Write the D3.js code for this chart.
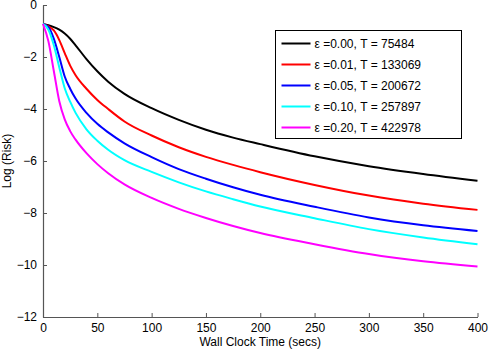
<!DOCTYPE html>
<html>
<head>
<meta charset="utf-8">
<script src="https://cdn.jsdelivr.net/npm/d3@7"></script>
<style>
  body { margin: 0; background: #fff; }
  text { font-family: "Liberation Sans", Arial, sans-serif; }
</style>
</head>
<body>
<svg id="chart" width="490" height="352"></svg>
<script>
// wall clock time (secs)
const times = [0, 5, 10, 15, 20, 25, 30, 40, 50, 60, 75, 100, 125, 150, 175, 200, 250, 300, 350, 400];

const riskEps000 = [-0.73, -0.78, -0.85, -0.95, -1.1, -1.3, -1.55, -2.08, -2.55, -2.95, -3.42, -3.97, -4.42, -4.8, -5.1, -5.35, -5.82, -6.2, -6.5, -6.76];
const riskEps001 = [-0.73, -0.82, -0.98, -1.35, -1.85, -2.33, -2.7, -3.22, -3.65, -4.0, -4.48, -5.02, -5.47, -5.84, -6.15, -6.43, -6.92, -7.33, -7.64, -7.88];
const riskEps005 = [-0.73, -0.85, -1.3, -2.0, -2.75, -3.22, -3.6, -4.15, -4.57, -4.9, -5.32, -5.85, -6.31, -6.68, -7.01, -7.3, -7.76, -8.17, -8.47, -8.69];
const riskEps010 = [-0.73, -0.95, -1.55, -2.4, -3.2, -3.72, -4.15, -4.78, -5.22, -5.57, -5.97, -6.42, -6.82, -7.17, -7.47, -7.75, -8.2, -8.62, -8.94, -9.2];
const riskEps020 = [-0.73, -1.4, -2.55, -3.7, -4.4, -4.85, -5.18, -5.7, -6.12, -6.47, -6.9, -7.42, -7.84, -8.19, -8.5, -8.77, -9.2, -9.58, -9.86, -10.06];

const seriesNames = ["ε =0.00, T = 75484", "ε =0.01, T = 133069", "ε =0.05, T = 200672", "ε =0.10, T = 257897", "ε =0.20, T = 422978"];
const seriesColors = ["#000000", "#ff0000", "#0000ff", "#00ffff", "#ff00ff"];
const seriesValues = [riskEps000, riskEps001, riskEps005, riskEps010, riskEps020];

const xTicks = [0, 50, 100, 150, 200, 250, 300, 350, 400];
const yTicks = [0, -2, -4, -6, -8, -10, -12];

const margin = { top: 5, right: 12, bottom: 35, left: 43 };
const width = 490, height = 352;

const svg = d3.select("#chart");

const x = d3.scaleLinear().domain([0, 400]).range([margin.left, width - margin.right - 0.5]);
const y = d3.scaleLinear().domain([-12, 0]).range([height - margin.bottom, margin.top]);

const fmt = (d) => (d < 0 ? "\u2212" + Math.abs(d) : "" + d);

// axes
const xAxis = svg.append("g")
  .attr("transform", `translate(0, ${y(-12)})`)
  .call(d3.axisBottom(x).tickValues(xTicks).tickSizeInner(-4).tickSizeOuter(0).tickPadding(6));
const yAxis = svg.append("g")
  .attr("transform", `translate(${x(0)}, 0)`)
  .call(d3.axisLeft(y).tickValues(yTicks).tickFormat(fmt).tickSizeInner(-4).tickSizeOuter(0).tickPadding(6));

[xAxis, yAxis].forEach((g) => {
  g.select(".domain").attr("stroke", "#555").attr("stroke-width", 1.2);
  g.selectAll(".tick line").attr("stroke", "#555");
  g.selectAll(".tick text").attr("fill", "#000").attr("font-size", 12)
    .attr("font-family", "Liberation Sans, Arial, sans-serif");
});

// lines
const line = d3.line()
  .x((d, i) => x(times[i]))
  .y((d) => y(d))
  .curve(d3.curveMonotoneX);

svg.append("g")
  .selectAll("path")
  .data(seriesValues)
  .join("path")
  .attr("d", line)
  .attr("fill", "none")
  .attr("stroke", (d, i) => seriesColors[i])
  .attr("stroke-width", 2);

// axis labels
svg.append("text")
  .attr("x", (x(0) + x(400)) / 2)
  .attr("y", 346)
  .attr("text-anchor", "middle")
  .attr("font-size", 12)
  .text("Wall Clock Time (secs)");

svg.append("text")
  .attr("transform", `translate(11, ${(y(0) + y(-12)) / 2}) rotate(-90)`)
  .attr("text-anchor", "middle")
  .attr("font-size", 12)
  .text("Log (Risk)");

// legend
const legend = svg.append("g").attr("transform", "translate(275.5, 30.5)");
legend.append("rect")
  .attr("width", 186)
  .attr("height", 108)
  .attr("fill", "#fff")
  .attr("stroke", "#000");

const item = legend.selectAll("g.item")
  .data(seriesNames)
  .join("g")
  .attr("class", "item")
  .attr("transform", (d, i) => `translate(0, ${13 + i * 21})`);

item.append("line")
  .attr("x1", 6).attr("x2", 35)
  .attr("stroke", (d, i) => seriesColors[i])
  .attr("stroke-width", 2);

item.append("text")
  .attr("x", 39)
  .attr("dy", "0.35em")
  .attr("font-size", 12)
  .text((d) => d);
</script>
</body>
</html>
